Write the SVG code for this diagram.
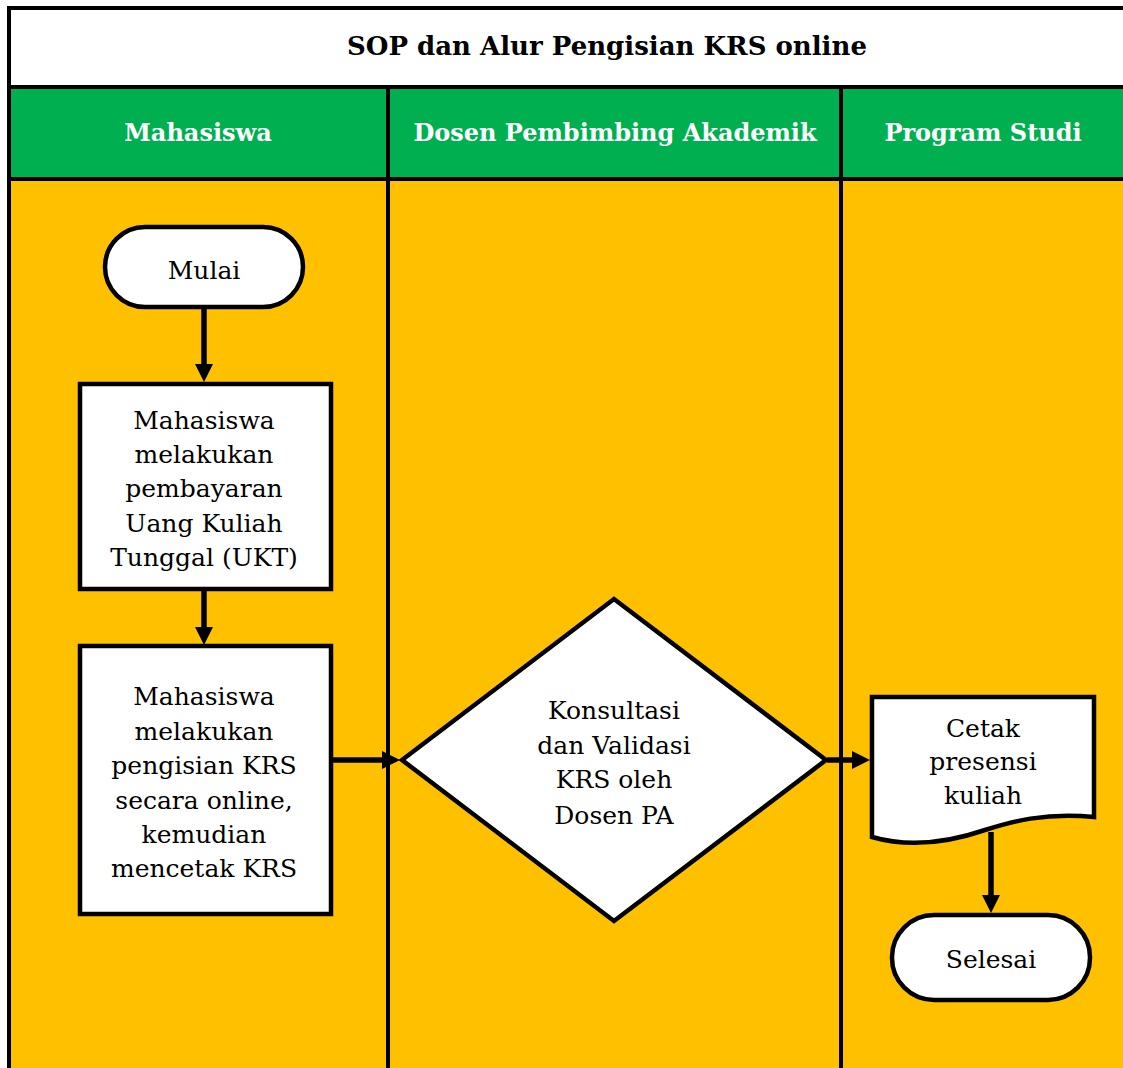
<svg xmlns="http://www.w3.org/2000/svg" width="1123" height="1068" viewBox="0 0 1123 1068">
<style>
.ttl{font-family:"DejaVu Serif","Liberation Serif",serif;font-weight:bold;font-size:26px;fill:#000;text-anchor:middle}
.hd{font-family:"DejaVu Serif","Liberation Serif",serif;font-weight:bold;font-size:24px;fill:#fff;text-anchor:middle}
.tx{font-family:"DejaVu Serif","Liberation Serif",serif;font-size:25px;fill:#000;text-anchor:middle}
.shape{fill:#fff;stroke:#000;stroke-width:4.5}
.conn{fill:none;stroke:#000;stroke-width:5.5}
.grid{stroke:#000;stroke-width:4;fill:none}
</style>
<defs>
<marker id="arr" markerUnits="userSpaceOnUse" markerWidth="18" markerHeight="18" refX="2" refY="9" orient="auto">
<path d="M0,0 L18,9 L0,18 Z" fill="#000"/>
</marker>
</defs>
<g id="background">
<rect x="0" y="0" width="1123" height="1068" fill="#fff"/>
<rect x="9" y="8" width="1114" height="79" fill="#fff"/>
<rect x="9" y="87" width="1114" height="92" fill="#00B050"/>
<rect x="9" y="179" width="1114" height="889" fill="#FFC000"/>
<path class="grid" d="M9,8 H1123 M9,87 H1123 M9,179 H1123 M9,6 V1068 M388,87 V1068 M841,87 V1068"/>
</g>
<g id="title"><text class="ttl" x="607" y="55">SOP dan Alur Pengisian KRS online</text></g>
<g id="lane-mahasiswa"><text class="hd" x="198" y="141">Mahasiswa</text></g>
<g id="lane-dosen"><text class="hd" x="615" y="141">Dosen Pembimbing Akademik</text></g>
<g id="lane-prodi"><text class="hd" x="983" y="141">Program Studi</text></g>
<g id="connectors">
<line class="conn" x1="204" y1="309" x2="204" y2="366" marker-end="url(#arr)"/>
<line class="conn" x1="204" y1="590" x2="204" y2="629" marker-end="url(#arr)"/>
<line class="conn" x1="331" y1="760" x2="384" y2="760" marker-end="url(#arr)"/>
<line class="conn" x1="827" y1="760" x2="854" y2="760" marker-end="url(#arr)"/>
<line class="conn" x1="991" y1="832" x2="991" y2="897" marker-end="url(#arr)"/>
</g>
<g id="mulai">
<rect class="shape" x="105" y="227" width="198" height="80" rx="40"/>
<text class="tx" x="204" y="279">Mulai</text>
</g>
<g id="bayar-ukt">
<rect class="shape" x="80" y="384" width="251" height="205"/>
<text class="tx" x="204" y="429">Mahasiswa</text>
<text class="tx" x="204" y="463">melakukan</text>
<text class="tx" x="204" y="497">pembayaran</text>
<text class="tx" x="204" y="532">Uang Kuliah</text>
<text class="tx" x="204" y="566">Tunggal (UKT)</text>
</g>
<g id="isi-krs">
<rect class="shape" x="80" y="646" width="251" height="268"/>
<text class="tx" x="204" y="705">Mahasiswa</text>
<text class="tx" x="204" y="740">melakukan</text>
<text class="tx" x="204" y="774">pengisian KRS</text>
<text class="tx" x="204" y="809">secara online,</text>
<text class="tx" x="204" y="843">kemudian</text>
<text class="tx" x="204" y="877">mencetak KRS</text>
</g>
<g id="validasi">
<polygon class="shape" points="402,760 614,599 826,760 614,921"/>
<text class="tx" x="614" y="719">Konsultasi</text>
<text class="tx" x="614" y="754">dan Validasi</text>
<text class="tx" x="614" y="788">KRS oleh</text>
<text class="tx" x="614" y="824">Dosen PA</text>
</g>
<g id="cetak-presensi">
<path class="shape" d="M872,697 H1094 V817 C1045,812 1010,822 985,830 C950,842 910,848 872,837 Z"/>
<text class="tx" x="983" y="737">Cetak</text>
<text class="tx" x="983" y="770">presensi</text>
<text class="tx" x="983" y="804">kuliah</text>
</g>
<g id="selesai">
<rect class="shape" x="892" y="915" width="198" height="85" rx="42"/>
<text class="tx" x="991" y="968">Selesai</text>
</g>
</svg>
